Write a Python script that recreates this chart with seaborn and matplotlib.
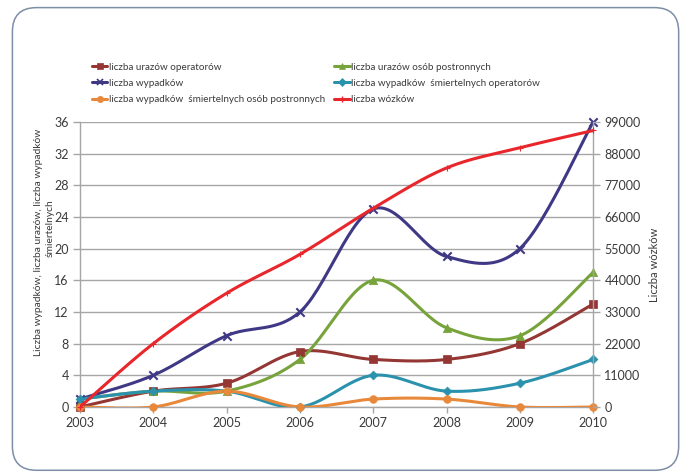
import numpy as np
import pandas as pd
import matplotlib
matplotlib.use("Agg")
import matplotlib.pyplot as plt
from matplotlib.lines import Line2D
from matplotlib.patches import FancyBboxPatch
import seaborn as sns

years = [2003, 2004, 2005, 2006, 2007, 2008, 2009, 2010]
urazy_operatorow = [0, 2, 3, 7, 6, 6, 8, 13]
urazy_postronnych = [1, 2, 2, 6, 16, 10, 9, 17]
wypadki = [1, 4, 9, 12, 25, 19, 20, 36]
smiertelne_operatorow = [1, 2, 2, 0, 4, 2, 3, 6]
smiertelne_postronnych = [0, 0, 2, 0, 1, 1, 0, 0]
wozki = [0, 22000, 39500, 53000, 69000, 83000, 90000, 96000]

left_ticks = list(range(0, 37, 4))
right_ticks = list(range(0, 99001, 11000))

sns.set_theme(style="white")
plt.rcParams["font.family"] = ["Lato", "DejaVu Sans"]


def smooth(x, y, n=30):
    """Bezier smoothing through every point (Catmull-Rom control points)."""
    x = np.asarray(x, float)
    y = np.asarray(y, float)
    px = np.concatenate([[x[0]], x, [x[-1]]])
    py = np.concatenate([[y[0]], y, [y[-1]]])
    outx, outy = [], []
    t = np.linspace(0, 1, n)
    for i in range(1, len(px) - 2):
        p0 = np.array([px[i - 1], py[i - 1]])
        p1 = np.array([px[i], py[i]])
        p2 = np.array([px[i + 1], py[i + 1]])
        p3 = np.array([px[i + 2], py[i + 2]])
        c1 = p1 + (p2 - p0) / 6
        c2 = p2 - (p3 - p1) / 6
        b = ((1 - t) ** 3)[:, None] * p1 + (3 * (1 - t) ** 2 * t)[:, None] * c1 \
            + (3 * (1 - t) * t ** 2)[:, None] * c2 + (t ** 3)[:, None] * p2
        outx.extend(b[:, 0])
        outy.extend(b[:, 1])
    return np.array(outx), np.array(outy)


W, H = 689, 476
fig = plt.figure(figsize=(W / 100, H / 100), dpi=100)
fig.patch.set_facecolor("white")
frame = FancyBboxPatch((0.018, 0.012), 0.967, 0.972,
                       boxstyle="round,pad=0,rounding_size=0.035",
                       transform=fig.transFigure, facecolor="white",
                       edgecolor="#7d8ea6", linewidth=1.1, zorder=-5,
                       mutation_aspect=W / H)
fig.patches.append(frame)

ax = fig.add_axes([0.116, 0.145, 0.745, 0.599])
ax2 = ax.twinx()

grid_col = "#a6a6a6"
text_col = "#3a3a3a"
series = [
    ("liczba urazów operatorów", urazy_operatorow, "#943634", "s", 5.5),
    ("liczba urazów osób postronnych", urazy_postronnych, "#77a33b", "^", 6),
    ("liczba wypadków", wypadki, "#3f3885", "x", 6),
    ("liczba wypadków  śmiertelnych operatorów", smiertelne_operatorow, "#2b92ad", "D", 4.5),
    ("liczba wypadków  śmiertelnych osób postronnych", smiertelne_postronnych, "#e8883a", "o", 5.5),
]

for label, vals, col, mk, ms in series:
    sx, sy = smooth(years, vals)
    sns.lineplot(x=sx, y=sy, ax=ax, color=col, linewidth=2.2, sort=False,
                 estimator=None, zorder=3)
    sns.scatterplot(x=years, y=vals, ax=ax, color=col, marker=mk, s=ms ** 2,
                    linewidth=1.5 if mk == "x" else 0.5,
                    edgecolor=col, zorder=4, clip_on=False)

wx, wy = smooth(years, wozki)
sns.lineplot(x=wx, y=wy, ax=ax2, color="#e8262b", linewidth=2.2, sort=False,
             estimator=None, zorder=3)
sns.scatterplot(x=years, y=wozki, ax=ax2, color="#e8262b", marker="+", s=14,
                linewidth=0.8, zorder=4, clip_on=False)

ax.set_xlim(2003, 2010)
ax.set_ylim(0, 36)
ax2.set_ylim(0, 99000)
ax.set_yticks(left_ticks)
ax2.set_yticks(right_ticks)
ax.set_xticks(years)
ax.set_xticklabels([str(y) for y in years])
ax2.set_yticklabels([str(v) for v in right_ticks])

ax.yaxis.grid(True, color=grid_col, linewidth=1)
ax.xaxis.grid(False)
ax2.grid(False)
for a in (ax, ax2):
    for s in a.spines.values():
        s.set_visible(False)
ax.spines["left"].set_visible(True)
ax.spines["bottom"].set_visible(True)
ax2.spines["right"].set_visible(True)
for s in (ax.spines["left"], ax.spines["bottom"], ax2.spines["right"]):
    s.set_color(grid_col)
    s.set_linewidth(1)

ax.tick_params(axis="y", which="both", left=True, length=5, width=1,
               color=grid_col, labelsize=9, labelcolor=text_col, pad=3)
ax.tick_params(axis="x", bottom=True, length=4, width=1, color=grid_col,
               labelsize=9, labelcolor=text_col, pad=3)
ax2.tick_params(axis="y", right=True, length=5, width=1, color=grid_col,
                labelsize=9, labelcolor=text_col, pad=3)

# two-line left axis title, each line centred on its own
fig.text(39 / W, 1 - 242 / H, "Liczba wypadków, liczba urazów, liczba wypadków",
         rotation=90, ha="center", va="center", fontsize=7.4, color=text_col)
fig.text(50 / W, 1 - 228 / H, "śmiertelnych",
         rotation=90, ha="center", va="center", fontsize=7.4, color=text_col)
ax2.set_ylabel("Liczba wózków", fontsize=8, color=text_col, labelpad=6,
               rotation=90)

# primary-axis series drawn beneath the secondary red line
ax2.set_zorder(ax.get_zorder() + 1)
ax2.patch.set_visible(False)
ax.set_facecolor("white")

handles = {}
for label, vals, col, mk, ms in series:
    handles[label] = Line2D([], [], color=col, linewidth=2.2, marker=mk,
                            markersize=4.5, markeredgecolor=col,
                            markeredgewidth=1.2 if mk == "x" else 0.5)
handles["liczba wózków"] = Line2D([], [], color="#e8262b", linewidth=2.2,
                                  marker="+", markersize=5)
order = ["liczba urazów operatorów", "liczba wypadków",
         "liczba wypadków  śmiertelnych osób postronnych",
         "liczba urazów osób postronnych",
         "liczba wypadków  śmiertelnych operatorów", "liczba wózków"]
leg = fig.legend([handles[k] for k in order], order, ncol=2,
                 loc="upper left", bbox_to_anchor=(0.133, 0.868),
                 frameon=False, fontsize=7.1, handlelength=1.6,
                 handletextpad=0.15, columnspacing=0.9, labelspacing=0.72,
                 borderaxespad=0, borderpad=0)
for t in leg.get_texts():
    t.set_color(text_col)

fig.savefig("out.png", dpi=100, facecolor="white")
